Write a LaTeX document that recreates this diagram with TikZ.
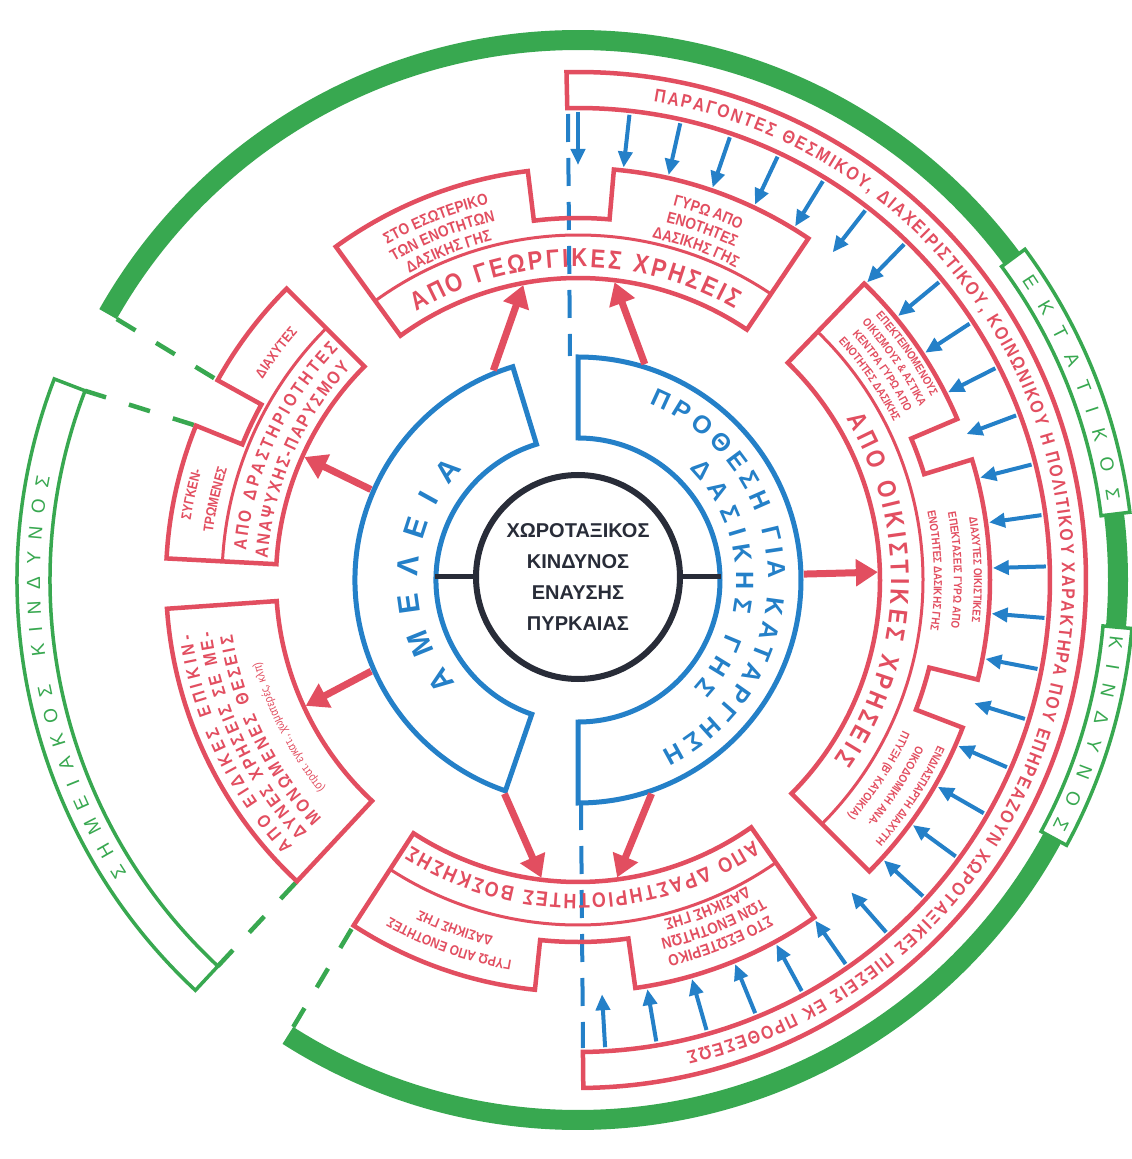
\documentclass[tikz,border=0pt]{standalone}
\usepackage{fontspec}
\setmainfont{Liberation Sans}
\newfontfamily\narrowfont[FakeStretch=0.85]{Liberation Sans}
\usetikzlibrary{arrows.meta,decorations.text}
\definecolor{riskred}{RGB}{226,78,96}
\definecolor{riskblue}{RGB}{36,128,200}
\definecolor{riskgreen}{RGB}{56,168,80}
\definecolor{riskdark}{RGB}{40,44,56}
\newcommand\catfmt{\narrowfont\bfseries\fontsize{26}{28}\selectfont\color{riskred}}
\newcommand\catsmallfmt{\narrowfont\bfseries\fontsize{21}{23}\selectfont\color{riskred}}
\newcommand\leftfmt{\narrowfont\bfseries\fontsize{18}{20}\selectfont\color{riskred}}
\newcommand\subfmt{\narrowfont\bfseries\fontsize{16}{18}\selectfont\color{riskred}}
\newcommand\subsmallfmt{\narrowfont\bfseries\fontsize{14}{16}\selectfont\color{riskred}}
\newcommand\tinyfmt{\narrowfont\bfseries\fontsize{11.5}{13}\selectfont\color{riskred}}
\newcommand\notefmt{\narrowfont\fontsize{12}{14}\selectfont\color{riskred}}
\newcommand\bandfmt{\narrowfont\bfseries\fontsize{18.5}{20}\selectfont\color{riskred}}
\newcommand\bluefmt{\bfseries\fontsize{25}{27}\selectfont\color{riskblue}}
\newcommand\bluebigfmt{\bfseries\fontsize{30}{32}\selectfont\color{riskblue}}
\newcommand\greenfmt{\fontsize{19}{21}\selectfont\color{riskgreen}}
\newcommand\arctext[5]{\path[decorate,decoration={text along path,text align=center,text={|#1|#5}}] (#3:#2) arc[start angle=#3,end angle=#4,radius=#2];}
\newcommand\arcfit[5]{\path[decorate,decoration={text along path,text align={fit to path},text={|#1|#5}}] (#3:#2) arc[start angle=#3,end angle=#4,radius=#2];}
\def\grpin{302pt}
\def\grpdiv{345pt}
\def\grpnotch{362pt}
\def\grpout{412pt}
\begin{document}
\begin{tikzpicture}[x=1pt,y=1pt,
    redline/.style={draw=riskred,line width=4.5pt,line join=miter},
    redthin/.style={draw=riskred,line width=3pt},
    blueline/.style={draw=riskblue,line width=5pt,line join=miter},
    greenline/.style={draw=riskgreen,line width=3.5pt},
    greenthick/.style={draw=riskgreen,line width=20pt},
    greendash/.style={draw=riskgreen,line width=4.5pt,dash pattern=on 22pt off 24pt},
    bluedash/.style={draw=riskblue,line width=4pt,dash pattern=on 28pt off 16pt},
    redarrow/.style={draw=riskred,line width=7pt,-{Triangle[length=22pt,width=26pt]}},
    bluearrow/.style={draw=riskblue,line width=4pt,-{Triangle[length=16pt,width=14pt]}},
    spoke/.style={draw=riskdark,line width=5pt}]
\useasboundingbox[fill=white] (-578,-579) rectangle (554,580);

\draw[greenthick] (150.5:540pt) arc[start angle=150.5,end angle=36.5,radius=540pt];
\draw[greenthick] (7:540pt) arc[start angle=7,end angle=-5,radius=540pt];
\draw[greenthick] (-28.5:540pt) arc[start angle=-28.5,end angle=-122.5,radius=540pt];
\draw[greenline] (36.5:527pt) -- (36.5:556pt) arc[start angle=36.5,end angle=7,radius=556pt] -- (7:527pt) arc[start angle=7,end angle=36.5,radius=527pt] -- cycle;
\draw[greenline] (-5:527pt) -- (-5:556pt) arc[start angle=-5,end angle=-28.5,radius=556pt] -- (-28.5:527pt) arc[start angle=-28.5,end angle=-5,radius=527pt] -- cycle;
\draw[greenline] (227:528pt) -- (227:561pt) arc[start angle=227,end angle=159,radius=561pt] -- (159:528pt) arc[start angle=159,end angle=227,radius=528pt] -- cycle;
\arcfit{\greenfmt}{535pt}{34}{8.5}{ΕΚΤΑΤΙΚΟΣ}
\arcfit{\greenfmt}{535pt}{-6}{-27.5}{ΚΙΝΔΥΝΟΣ}
\arcfit{\greenfmt}{538pt}{213}{169}{ΣΗΜΕΙΑΚΟΣ ΚΙΝΔΥΝΟΣ}

\coordinate (gend1) at (150.5:530pt);
\coordinate (gend2) at (159:528pt);
\coordinate (gend3) at (227:528pt);
\coordinate (gend4) at (237.5:530pt);
\coordinate (rcor1) at (151:412pt);
\coordinate (rcor2) at (158:412pt);
\coordinate (rcor3) at (227:412pt);
\coordinate (rcor4) at (237:412pt);
\foreach \i in {1,...,4} \draw[greendash] (gend\i) -- (rcor\i);

\draw[redline] (91.3:472pt) -- (91.3:508pt) arc[start angle=91.3,end angle=-89.4,radius=508pt] -- (-89.4:472pt) arc[start angle=-89.4,end angle=91.3,radius=472pt] -- cycle;
\arcfit{\bandfmt}{484pt}{81}{-77}{ΠΑΡΑΓΟΝΤΕΣ ΘΕΣΜΙΚΟΥ, ΔΙΑΧΕΙΡΙΣΤΙΚΟΥ, ΚΟΙΝΩΝΙΚΟΥ Η ΠΟΛΙΤΙΚΟΥ ΧΑΡΑΚΤΗΡΑ ΠΟΥ ΕΠΗΡΕΑΖΟΥΝ ΧΩΡΟΤΑΞΙΚΕΣ ΠΙΕΣΕΙΣ ΕΚ ΠΡΟΘΕΣΕΩΣ}

\coordinate (dtop) at (-10,466);
\coordinate (dtopend) at (-8,224);
\coordinate (dbot) at (3,-222);
\coordinate (dbotend) at (5,-468);
\draw[bluedash] (dtop) -- (dtopend);
\draw[bluedash] (dbot) -- (dbotend);

\draw[redline] (126:\grpin) -- (126:\grpout) arc[start angle=126,end angle=97,radius=\grpout] -- (97:\grpnotch) arc[start angle=97,end angle=85,radius=\grpnotch] -- (85:\grpout) arc[start angle=85,end angle=56,radius=\grpout] -- (56:\grpin) arc[start angle=56,end angle=126,radius=\grpin] -- cycle;
\draw[redthin] (126:\grpdiv) arc[start angle=126,end angle=56,radius=\grpdiv];
\arcfit{\catfmt}{313pt}{121}{60}{ΑΠΟ ΓΕΩΡΓΙΚΕΣ ΧΡΗΣΕΙΣ}
\arctext{\subfmt}{386pt}{126}{97}{ΣΤΟ ΕΣΩΤΕΡΙΚΟ}
\arctext{\subfmt}{368pt}{126}{97}{ΤΩΝ ΕΝΟΤΗΤΩΝ}
\arctext{\subfmt}{350pt}{126}{97}{ΔΑΣΙΚΗΣ ΓΗΣ}
\arctext{\subfmt}{386pt}{85}{56}{ΓΥΡΩ ΑΠΟ}
\arctext{\subfmt}{368pt}{85}{56}{ΕΝΟΤΗΤΕΣ}
\arctext{\subfmt}{350pt}{85}{56}{ΔΑΣΙΚΗΣ ΓΗΣ}

\draw[redline] (46:\grpin) -- (46:\grpout) arc[start angle=46,end angle=23,radius=\grpout] -- (23:\grpnotch) arc[start angle=23,end angle=17,radius=\grpnotch] -- (17:\grpout) arc[start angle=17,end angle=-14,radius=\grpout] -- (-14:\grpnotch) arc[start angle=-14,end angle=-21,radius=\grpnotch] -- (-21:\grpout) arc[start angle=-21,end angle=-45,radius=\grpout] -- (-45:\grpin) arc[start angle=-45,end angle=46,radius=\grpin] -- cycle;
\draw[redthin] (46:\grpdiv) arc[start angle=46,end angle=-45,radius=\grpdiv];
\arcfit{\catfmt}{313pt}{31}{-35}{ΑΠΟ ΟΙΚΙΣΤΙΚΕΣ ΧΡΗΣΕΙΣ}
\arctext{\tinyfmt}{398pt}{46}{23}{ΕΠΕΚΤΕΙΝΟΜΕΝΟΥΣ}
\arctext{\tinyfmt}{383pt}{46}{23}{ΟΙΚΙΣΜΟΥΣ {\&} ΑΣΤΙΚΑ}
\arctext{\tinyfmt}{368pt}{46}{23}{ΚΕΝΤΡΑ ΓΥΡΩ ΑΠΟ}
\arctext{\tinyfmt}{353pt}{46}{23}{ΕΝΟΤΗΤΕΣ ΔΑΣΙΚΗΣ}
\arctext{\tinyfmt}{396pt}{17}{-14}{ΔΙΑΧΥΤΕΣ ΟΙΚΙΣΤΙΚΕΣ}
\arctext{\tinyfmt}{376pt}{17}{-14}{ΕΠΕΚΤΑΣΕΙΣ ΓΥΡΩ ΑΠΟ}
\arctext{\tinyfmt}{356pt}{17}{-14}{ΕΝΟΤΗΤΕΣ ΔΑΣΙΚΗΣ ΓΗΣ}
\arctext{\tinyfmt}{396pt}{-21}{-45}{ΕΝΔΙΑΣΠΑΡΤΗ ΔΙΑΧΥΤΗ}
\arctext{\tinyfmt}{377pt}{-21}{-45}{ΟΙΚΟΔΟΜΙΚΗ ΑΝΑ-}
\arctext{\tinyfmt}{358pt}{-21}{-45}{ΠΤΥΞΗ (Β' ΚΑΤΟΙΚΙΑ)}

\draw[redline] (305:\grpin) -- (305:\grpout) arc[start angle=305,end angle=278,radius=\grpout] -- (278:\grpnotch) arc[start angle=278,end angle=264,radius=\grpnotch] -- (264:\grpout) arc[start angle=264,end angle=237,radius=\grpout] -- (237:\grpin) arc[start angle=237,end angle=305,radius=\grpin] -- cycle;
\draw[redthin] (305:\grpdiv) arc[start angle=305,end angle=237,radius=\grpdiv];
\arcfit{\catsmallfmt}{314pt}{304}{238}{ΑΠΟ ΔΡΑΣΤΗΡΙΟΤΗΤΕΣ ΒΟΣΚΗΣΗΣ}
\arctext{\subfmt}{386pt}{305}{278}{ΣΤΟ ΕΣΩΤΕΡΙΚΟ}
\arctext{\subfmt}{368pt}{305}{278}{ΤΩΝ ΕΝΟΤΗΤΩΝ}
\arctext{\subfmt}{350pt}{305}{278}{ΔΑΣΙΚΗΣ ΓΗΣ}
\arctext{\subsmallfmt}{386pt}{264}{237}{ΓΥΡΩ ΑΠΟ ΕΝΟΤΗΤΕΣ}
\arctext{\subsmallfmt}{366pt}{264}{237}{ΔΑΣΙΚΗΣ ΓΗΣ}

\draw[redline] (227:\grpin) -- (227:\grpout) arc[start angle=227,end angle=184,radius=\grpout] -- (184:\grpin) arc[start angle=184,end angle=227,radius=\grpin] -- cycle;
\arcfit{\leftfmt}{390pt}{223}{188}{ΑΠΟ ΕΙΔΙΚΕΣ ΕΠΙΚΙΝ-}
\arcfit{\leftfmt}{370pt}{223}{188}{ΔΥΝΕΣ ΧΡΗΣΕΙΣ ΣΕ ΜΕ-}
\arcfit{\leftfmt}{350pt}{223}{189}{ΜΟΝΩΜΕΝΕΣ ΘΕΣΕΙΣ}
\arctext{\notefmt}{328pt}{224}{190}{(στρατ. εγκατ., χωματερές, κλπ)}

\draw[redline] (177:\grpin) -- (177:\grpout) arc[start angle=177,end angle=158,radius=\grpout] -- (158:\grpnotch) arc[start angle=158,end angle=151,radius=\grpnotch] -- (151:\grpout) arc[start angle=151,end angle=135,radius=\grpout] -- (135:\grpin) arc[start angle=135,end angle=177,radius=\grpin] -- cycle;
\draw[redthin] (177:356pt) arc[start angle=177,end angle=135,radius=356pt];
\arcfit{\leftfmt}{333pt}{175}{136}{ΑΠΟ ΔΡΑΣΤΗΡΙΟΤΗΤΕΣ}
\arcfit{\leftfmt}{311pt}{176}{137}{ΑΝΑΨΥΧΗΣ-ΠΑΡΥΣΜΟΥ}
\arctext{\subsmallfmt}{374pt}{151}{135}{ΔΙΑΧΥΤΕΣ}
\arctext{\subsmallfmt}{392pt}{177}{158}{ΣΥΓΚΕΝ-}
\arctext{\subsmallfmt}{368pt}{177}{158}{ΤΡΩΜΕΝΕΣ}

\draw[blueline] (107:142pt) -- (107:223pt) arc[start angle=107,end angle=251,radius=223pt] -- (251:142pt) arc[start angle=251,end angle=107,radius=142pt] -- cycle;
\draw[blueline] (90:142pt) -- (90:223pt) arc[start angle=90,end angle=-90,radius=223pt] -- (-90:142pt) arc[start angle=-90,end angle=90,radius=142pt] -- cycle;
\arcfit{\bluebigfmt}{160pt}{220}{136}{ΑΜΕΛΕΙΑ}
\arcfit{\bluefmt}{190pt}{68}{-64}{ΠΡΟΘΕΣΗ ΓΙΑ ΚΑΤΑΡΓΗΣΗ}
\arcfit{\bluefmt}{158pt}{45}{-43}{ΔΑΣΙΚΗΣ ΓΗΣ}

\node[circle,draw=riskdark,line width=6pt,minimum size=204pt,inner sep=0pt,align=center,text=riskdark,font=\bfseries\fontsize{20}{31}\selectfont] (core) at (0,3) {ΧΩΡΟΤΑΞΙΚΟΣ\\ΚΙΝΔΥΝΟΣ\\ΕΝΑΥΣΗΣ\\ΠΥΡΚΑΙΑΣ};
\coordinate (ringw) at (-143,3);
\coordinate (ringe) at (143,3);
\draw[spoke] (core.west) -- (ringw);
\draw[spoke] (core.east) -- (ringe);

\foreach \n/\a/\b in {geoa/112/100.5, geob/72.8/83, boska/251/263, boskb/289/277.5, anap/156.4/155.8, eid/203.8/204.8, oik/1.5/1.5} {
    \coordinate (s\n) at (\a:226pt);
    \coordinate (t\n) at (\b:300pt);
    \draw[redarrow] (s\n) -- (t\n);
}
\foreach \k in {0,...,28} {
    \coordinate (fs\k) at ({90-6.31*\k}:468pt);
    \coordinate (ft\k) at ({90-6.31*\k}:415pt);
    \draw[bluearrow] (fs\k) -- (ft\k);
}
\end{tikzpicture}
\end{document}
